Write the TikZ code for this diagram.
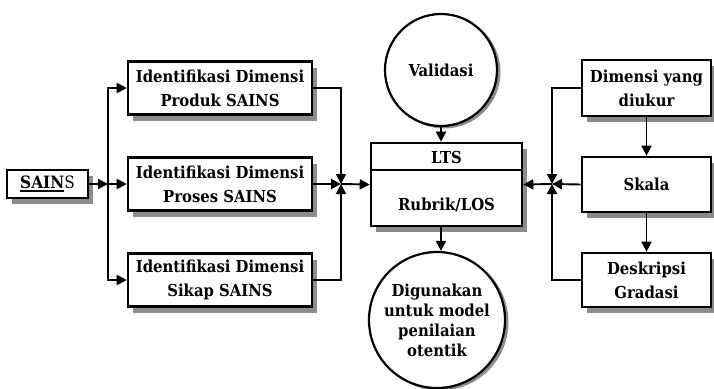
\documentclass[tikz,border=0pt]{standalone}
\usepackage{fontspec}
\setmainfont{DejaVu Serif Condensed}[BoldFont={DejaVu Serif Condensed Bold}]
\usetikzlibrary{arrows.meta}
% thick underline used for the SAIN part of the title
\newcommand\thickul[1]{\setbox0\hbox{#1}\rlap{\vrule height -1.8pt depth 3.8pt width \wd0}\box0}

\tikzset{
  lbl/.style={font=\bfseries\fontsize{16.5}{24}\selectfont, align=center},
  box/.style={draw, line width=2.6pt, fill=white, inner sep=0pt, lbl},
  circ/.style={draw, circle, line width=2.2pt, fill=white, inner sep=0pt, lbl},
  shadowfill/.style={fill=black!45},
  conn/.style={line width=1.9pt},
  tip/.style={-{Triangle[length=10pt,width=10pt]}},
}

\begin{document}
\begin{tikzpicture}[x=1pt,y=-1pt]
\useasboundingbox (0,0) rectangle (714,388);

% drop shadows, drawn first so the boxes sit on top of them
\fill[shadowfill] (12,176) rectangle (93,204);
\fill[shadowfill] (133,67.5) rectangle (317,120.5);
\fill[shadowfill] (133,163.5) rectangle (317,216.5);
\fill[shadowfill] (133,259.5) rectangle (317,312.5);
\fill[shadowfill] (376,149) rectangle (527,232);
\fill[shadowfill] (587,66) rectangle (716,122);
\fill[shadowfill] (587,163) rectangle (716,218);
\fill[shadowfill] (587,259) rectangle (716,313);
\fill[shadowfill] (444,72) circle[radius=56.5pt];
\fill[shadowfill] (440,322) circle[radius=68.5pt];

% source box
\node[box, minimum width=81pt, minimum height=28pt, font=\bfseries\fontsize{17}{20}\selectfont]
  (sains) at (47.5,184) {\thickul{SAIN}\mdseries S};

% left column of boxes
\node[box, minimum width=184pt, minimum height=53pt] (prod) at (220,88)
  {Identifikasi Dimensi\\Produk SAINS};
\node[box, minimum width=184pt, minimum height=53pt] (proc) at (220,184)
  {Identifikasi Dimensi\\Proses SAINS};
\node[box, minimum width=184pt, minimum height=53pt] (sikap) at (220,280)
  {Identifikasi Dimensi\\Sikap SAINS};

% central box
\node[box, minimum width=151pt, minimum height=83pt] (lts) at (446.5,184.5) {};
\draw[line width=2.2pt] ([yshift=-28pt]lts.north west) -- ([yshift=-28pt]lts.north east);
\node[lbl] (ltstitle) at (446.5,157) {LTS};
\node[lbl] (rubrik) at (446.5,205) {Rubrik/LOS};

% circles
\node[circ, minimum size=112pt] (val) at (441,70) {Validasi};
\node[circ, minimum size=136pt, font=\bfseries\fontsize{16.5}{20}\selectfont] (out) at (437,320)
  {Digunakan\\untuk model\\penilaian\\otentik};

% right column of boxes
\node[box, minimum width=129pt, minimum height=56pt] (dim) at (646.5,88)
  {Dimensi yang\\diukur};
\node[box, minimum width=129pt, minimum height=55pt] (skala) at (646.5,184.5)
  {\raisebox{-7pt}{Skala}};
\node[box, minimum width=129pt, minimum height=54pt] (desk) at (646.5,280)
  {Deskripsi\\Gradasi};

% junction points
\coordinate (bl) at (108,184);
\coordinate (jl) at (341,184);
\coordinate (jr) at (552,184);

% fan-out from the source
\draw[conn,tip] (sains.east) -- (bl);
\draw[conn,tip] (bl) |- (prod.west);
\draw[conn,tip] (bl) -- (proc.west);
\draw[conn,tip] (bl) |- (sikap.west);

% merge into the central box from the left
\draw[conn,tip] (prod.east) -| (jl);
\draw[conn,tip] (proc.east) -- (jl);
\draw[conn,tip] (sikap.east) -| (jl);
\draw[conn,tip] (jl) -- (lts.west);

% right chain and merge
\draw[conn,tip] (dim.south) -- (skala.north);
\draw[conn,tip] (skala.south) -- (desk.north);
\draw[conn,tip] (dim.west) -| (jr);
\draw[conn,tip] (skala.west) -- (jr);
\draw[conn,tip] (desk.west) -| (jr);
\draw[conn,tip] (jr) -- (lts.east);

% vertical links
\draw[conn,tip] (val.south) -- (val.south |- lts.north);
\draw[conn,tip] (lts.south -| val.south) -- (out.north -| val.south);
\end{tikzpicture}
\end{document}
